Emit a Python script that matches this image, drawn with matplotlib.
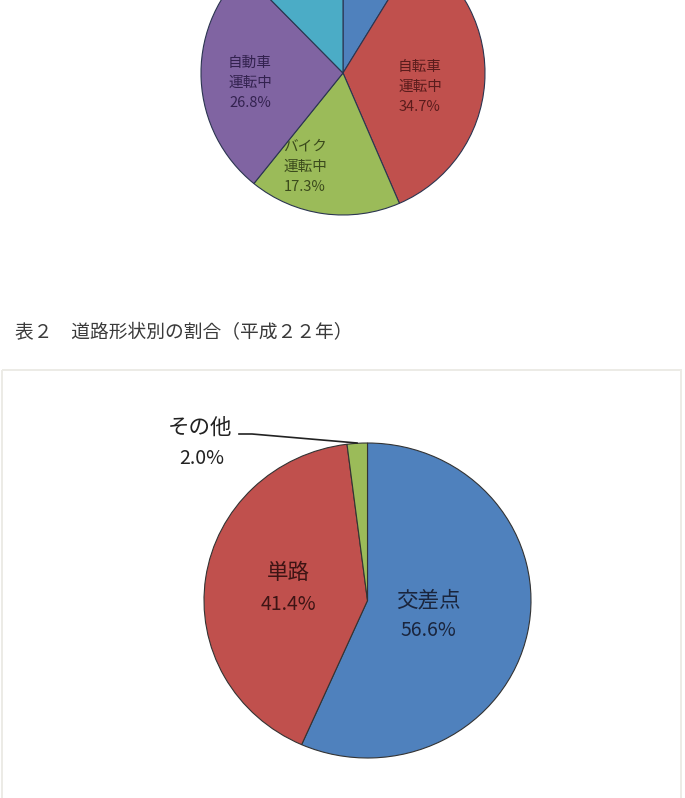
import matplotlib
matplotlib.use("Agg")
import matplotlib.pyplot as plt
from matplotlib.patches import Rectangle

plt.rcParams['font.family'] = ['Noto Sans CJK JP', 'DejaVu Sans']

W, H = 685, 798

# top chart (cut off at the top of the page)
top_labels = ['', '自転車\n運転中\n34.7%', 'バイク\n運転中\n17.3%', '自動車\n運転中\n26.8%', '12.4%']
top_values = [8.8, 34.7, 17.3, 26.8, 12.4]
top_colors = ['#4f81bd', '#c0504d', '#9bbb59', '#8064a2', '#4bacc6']
top_text_colors = ['#1f2f4f', '#5a1c1c', '#3b4a1c', '#33224f', '#1d4650']

caption = '表２　道路形状別の割合（平成２２年）'

# bottom chart
road_labels = ['交差点', '単路', 'その他']
road_values = [56.6, 41.4, 2.0]
road_colors = ['#4f81bd', '#c0504d', '#9bbb59']
road_text_colors = ['#1a253d', '#3d1414', '#222222']


def px_axes(fig, x, y, w, h, **kw):
    # add axes from pixel box (x, y from top-left)
    return fig.add_axes([x / W, 1 - (y + h) / H, w / W, h / H], **kw)


fig = plt.figure(figsize=(W / 100, H / 100), dpi=100)
fig.patch.set_facecolor('white')

# top pie
ax1 = px_axes(fig, 201, -69, 284, 284)
ax1.pie(top_values, colors=top_colors, startangle=90, counterclock=False,
        wedgeprops=dict(edgecolor='#2b3550', linewidth=0.8))
ax1.set_xlim(-1, 1)
ax1.set_ylim(-1, 1)
ax1.set_aspect('auto')
ax1.axis('off')

# bottom pie (slightly wider than tall)
ax2 = px_axes(fig, 204, 443, 327, 315)
ax2.pie(road_values, colors=road_colors, startangle=90, counterclock=False,
        wedgeprops=dict(edgecolor='#333333', linewidth=0.8))
ax2.set_xlim(-1, 1)
ax2.set_ylim(-1, 1)
ax2.set_aspect('auto')
ax2.axis('off')

# overlay for texts, frame and leader line
ov = fig.add_axes([0, 0, 1, 1], facecolor='none')
ov.set_xlim(0, W)
ov.set_ylim(H, 0)
ov.axis('off')

# top pie labels
top_pos = [(370, -40), (420, 87), (305, 167), (250, 83), (310, -4)]
for lab, (x, y), c in zip(top_labels, top_pos, top_text_colors):
    if lab:
        ov.text(x, y, lab, ha='center', va='center', fontsize=10.5,
                color=c, linespacing=1.55)

ov.text(15, 333, caption, ha='left', va='center', fontsize=13.5, color='#3a3a3a')

# frame around the lower chart
ov.add_patch(Rectangle((2, 370), 679, 460, fill=False,
                       edgecolor='#ecebe6', linewidth=1.4))

# bottom pie labels
ov.text(428, 600, road_labels[0], ha='center', va='center', fontsize=15.5,
        color=road_text_colors[0])
ov.text(428, 631, f'{road_values[0]:.1f}%', ha='center', va='center',
        fontsize=14, color=road_text_colors[0])
ov.text(288, 573, road_labels[1], ha='center', va='center', fontsize=15.5,
        color=road_text_colors[1])
ov.text(288, 605, f'{road_values[1]:.1f}%', ha='center', va='center',
        fontsize=14, color=road_text_colors[1])
ov.text(200, 428, road_labels[2], ha='center', va='center', fontsize=15.5,
        color=road_text_colors[2])
ov.text(202, 459, f'{road_values[2]:.1f}%', ha='center', va='center',
        fontsize=14, color=road_text_colors[2])
ov.plot([239, 252, 357], [434, 434, 443], color='#222222', linewidth=1.2)

fig.savefig('out.png', dpi=100, facecolor='white')
